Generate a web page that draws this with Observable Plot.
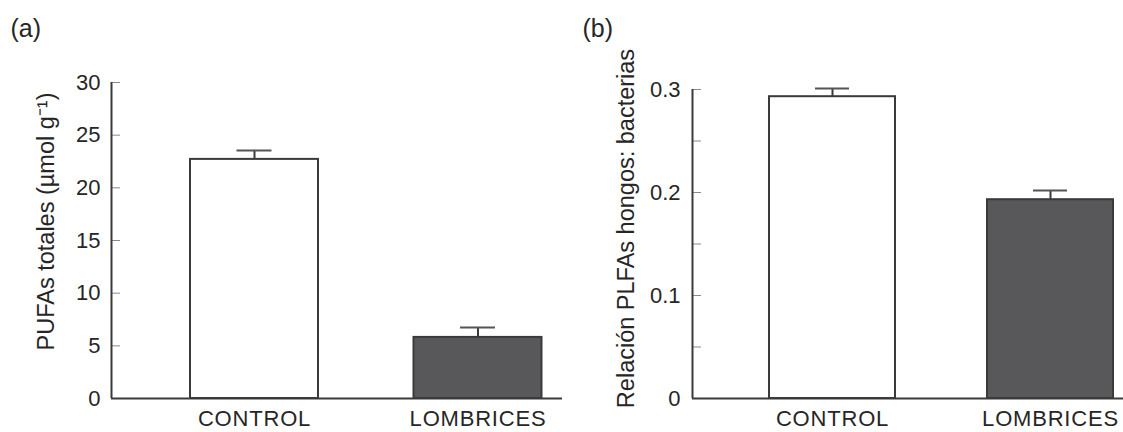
<!DOCTYPE html>
<html><head><meta charset="utf-8">
<script src="https://cdn.jsdelivr.net/npm/d3@7"></script>
<script src="https://cdn.jsdelivr.net/npm/@observablehq/plot@0.6"></script>
<style>
html,body{margin:0;padding:0;background:#fff;}
#wrap{position:relative;width:1123px;height:432px;overflow:hidden;font-family:"Liberation Sans",Arial,sans-serif;}
#wrap svg{position:absolute;top:0;}
</style></head><body><div id="wrap"></div>
<script>
// ---- data ----
const categories = ["CONTROL", "LOMBRICES"];
const totalMeans = [22.7, 5.8];
const totalErrors = [0.85, 0.95];
const totalTicks = [0, 5, 10, 15, 20, 25, 30];
const totalLabels = [0, 5, 10, 15, 20, 25, 30];
const ratioMeans = [0.293, 0.193];
const ratioErrors = [0.008, 0.009];
const ratioTicks = [0, 0.05, 0.1, 0.15, 0.2, 0.25, 0.3];
const ratioLabels = [0, 0.1, 0.2, 0.3];
const barFills = ["#ffffff", "#58585a"];
const titleA = "PUFAs totales (µmol g⁻¹)";
const titleB = "Relación PLFAs hongos: bacterias";
const tagA = "(a)";
const tagB = "(b)";

const FONT = '"Liberation Sans", Arial, sans-serif';
const INK = "#3a3a3a";
const TXT = "#262626";

function panel(o) {
  const data = categories.map((c, i) => ({c, v: o.means[i], hi: o.means[i] + o.errors[i], fill: barFills[i]}));
  const fw = o.width - o.ml - o.mr;
  const svg = Plot.plot({
    width: o.width, height: o.height,
    marginLeft: o.ml, marginRight: o.mr, marginTop: o.mt, marginBottom: o.mb,
    style: {fontFamily: FONT, fontSize: "21px", color: TXT, background: "transparent", overflow: "visible"},
    x: {type: "band", domain: categories, range: o.xRange, paddingInner: o.pad, paddingOuter: o.pad / 2, align: 0.5, round: false, label: null},
    y: {domain: o.yDomain, label: null},
    color: {type: "identity"},
    marks: [
      Plot.ruleY(o.ticks, {y: d => d, stroke: "#8a8a8a", strokeWidth: 1, insetRight: fw - 9}),
      Plot.barY(data, {x: "c", y: "v", fill: "fill", stroke: INK, strokeWidth: 2}),
      Plot.ruleX(data, {x: "c", y1: "v", y2: "hi", stroke: INK, strokeWidth: 2}),
      Plot.tickY(data, {x: "c", y: "hi", stroke: "#555", strokeWidth: 2, insetLeft: o.capInset, insetRight: o.capInset}),
      Plot.ruleY([0], {stroke: INK, strokeWidth: 2}),
      Plot.ruleX([0], {x: null, dx: -fw / 2, stroke: INK, strokeWidth: 2}),
      Plot.axisY(o.labels, {tickSize: 0, tickPadding: o.tickPad, tickFormat: o.fmt, fontSize: 22, fill: TXT, label: null}),
      Plot.axisX({tickSize: 0, tickPadding: 12, fontSize: 22, fill: TXT, label: null}),
      Plot.text([o.title], {text: d => d, frameAnchor: "left", textAnchor: "middle", lineAnchor: "middle", rotate: -90, dx: o.titleDx, dy: o.titleDy, fontSize: 23.5, fill: TXT}),
      Plot.text([o.tag], {text: d => d, frameAnchor: "top-left", textAnchor: "start", lineAnchor: "middle", dx: o.tagDx, dy: o.tagDy, fontSize: 25, fill: TXT})
    ]
  });
  svg.querySelectorAll('[aria-label="x-axis tick label"] text').forEach(t => t.setAttribute("letter-spacing", "0.8"));
  svg.style.left = o.left + "px";
  return svg;
}

const wrap = document.getElementById("wrap");
wrap.appendChild(panel({
  left: 0, width: 570, height: 432, ml: 111, mr: 8, mt: 82, mb: 34,
  xRange: [142.25, 589.25], pad: 0.4273, yDomain: [0, 30],
  means: totalMeans, errors: totalErrors, ticks: totalTicks, labels: totalLabels,
  fmt: d => String(d), tickPad: 11, capInset: 46.5,
  title: titleA, titleDx: -65, titleDy: -19,
  tag: tagA, tagDx: -101, tagDy: -53.5
}));
wrap.appendChild(panel({
  left: 560, width: 563, height: 432, ml: 132, mr: 0, mt: 89, mb: 34,
  xRange: [163, 599], pad: 0.422, yDomain: [0, 0.3],
  means: ratioMeans, errors: ratioErrors, ticks: ratioTicks, labels: ratioLabels,
  fmt: d => String(d), tickPad: 12, capInset: 46,
  title: titleB, titleDx: -66, titleDy: -15.5,
  tag: tagB, tagDx: -110, tagDy: -60.5
}));
</script></body></html>
